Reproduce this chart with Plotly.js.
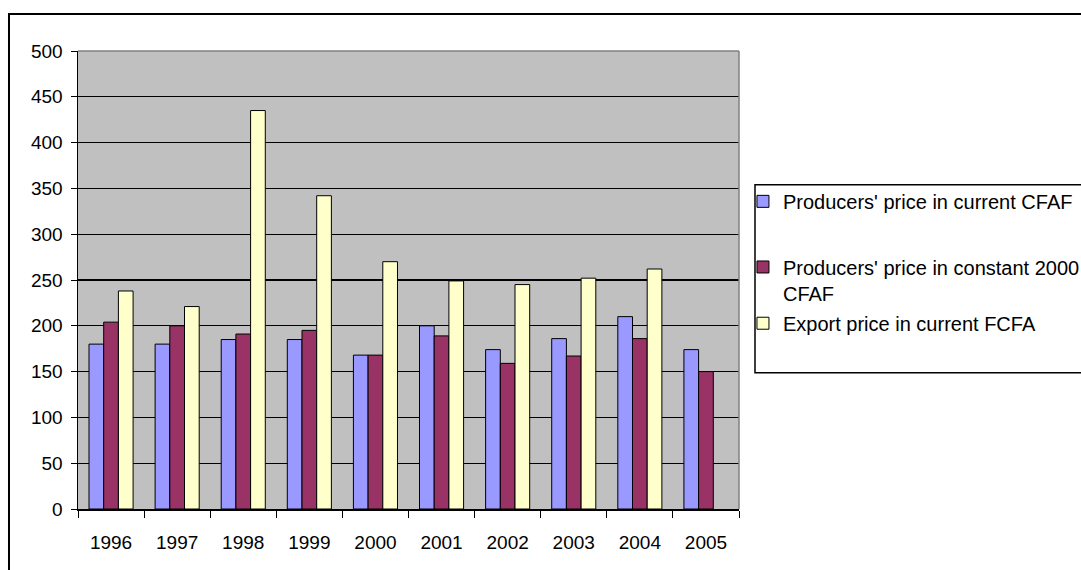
<!DOCTYPE html>
<html>
<head>
<meta charset="utf-8">
<script src="https://cdn.plot.ly/plotly-3.0.1.min.js"></script>
<style>html,body{margin:0;padding:0;background:#fff;}#chart{width:1081px;height:570px;}</style>
</head>
<body>
<div id="chart"></div>
<script>
var years = ['1996','1997','1998','1999','2000','2001','2002','2003','2004','2005'];
var seriesNames = ["Producers' price in current CFAF", "Producers' price in constant 2000<br>CFAF", "Export price in current FCFA"];
var producersCurrent = [180, 180, 185, 185, 168, 200, 174, 186, 210, 174];
var producersConstant = [204, 200, 191, 195, 168, 189, 159, 167, 186, 150];
var exportPrice = [238, 221, 435, 342, 270, 249, 245, 252, 262, null];
var yTicks = [0, 50, 100, 150, 200, 250, 300, 350, 400, 450, 500];

var FONT = 'Liberation Sans, Arial, sans-serif';
function barTrace(name, values, color, legendId) {
  return {
    type: 'bar', name: name, x: years, y: values,
    marker: {color: color, line: {color: '#000', width: 1}},
    legend: legendId, hoverinfo: 'x+y'
  };
}
var data = [
  barTrace(seriesNames[0], producersCurrent, '#9999FF', 'legend'),
  barTrace(seriesNames[1], producersConstant, '#993366', 'legend2'),
  barTrace(seriesNames[2], exportPrice, '#FFFFCC', 'legend3')
];
function leg(y) {
  return {x: 1.006, xanchor: 'left', y: y, yanchor: 'top', bgcolor: 'rgba(0,0,0,0)',
          borderwidth: 0, valign: 'top', font: {family: FONT, size: 20, color: '#000'}};
}
var layout = {
  width: 1081, height: 570,
  margin: {l: 78, r: 342, t: 51, b: 60.5, pad: 0, autoexpand: false},
  paper_bgcolor: '#fff', plot_bgcolor: '#c0c0c0',
  font: {family: FONT, size: 19, color: '#000'},
  barmode: 'group', bargap: 0.333, bargroupgap: 0,
  showlegend: true,
  legend: leg(0.7143), legend2: leg(0.571), legend3: leg(0.4482),
  xaxis: {
    type: 'category', tickson: 'boundaries', ticks: 'outside', ticklen: 7, tickwidth: 1, tickcolor: '#000',
    showline: true, linecolor: '#000', linewidth: 1.5, showgrid: false, zeroline: false,
    ticklabelstandoff: 16,
    tickfont: {family: FONT, size: 19, color: '#000'}, fixedrange: true
  },
  yaxis: {
    range: [0, 500], tickvals: yTicks, ticks: 'outside', ticklen: 6, tickwidth: 1, tickcolor: '#000',
    showline: true, linecolor: '#000', linewidth: 1.5, showgrid: true, gridcolor: '#000', gridwidth: 1.2,
    zeroline: false, ticklabelstandoff: 4,
    tickfont: {family: FONT, size: 19, color: '#000'}, fixedrange: true
  },
  shapes: [
    {type: 'line', xref: 'paper', yref: 'paper', x0: 0, x1: 1, y0: 1, y1: 1, line: {color: '#808080', width: 1.5}, layer: 'above'},
    {type: 'line', xref: 'paper', yref: 'paper', x0: 1, x1: 1, y0: 0, y1: 1, line: {color: '#808080', width: 1.5}, layer: 'above'},
    {type: 'rect', xref: 'paper', yref: 'paper', x0: 1.0242, x1: 1.6, y0: 0.2977, y1: 0.7077, line: {color: '#000', width: 1.5}, fillcolor: 'rgba(0,0,0,0)'},
    {type: 'rect', xref: 'paper', yref: 'paper', x0: -0.1044, x1: 1.6, y0: -0.3, y1: 1.0807, line: {color: '#000', width: 2}, fillcolor: 'rgba(0,0,0,0)'}
  ]
};
Plotly.newPlot('chart', data, layout, {displayModeBar: false, staticPlot: true});
</script>
</body>
</html>
